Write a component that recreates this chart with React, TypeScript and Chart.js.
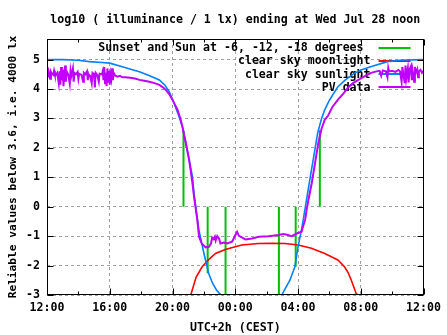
import React, { useEffect, useRef } from "react";
import { Chart, registerables } from "chart.js";

Chart.register(...registerables);

const FONT = "'DejaVu Sans Mono', 'Liberation Mono', monospace";

const titleText = "log10 ( illuminance / 1 lx) ending at Wed Jul 28 noon";
const yTitle = "Reliable values below 3.6, i.e. 4000 lx";
const xTitle = "UTC+2h (CEST)";

// x values are hours after 12:00 (Jul 27)
const xTickHours = [0, 4, 8, 12, 16, 20, 24];
const xTickLabels = ["12:00", "16:00", "20:00", "00:00", "04:00", "08:00", "12:00"];
const xMinorHours = [2, 6, 10, 14, 18, 22];
const yTicks = [-3, -2, -1, 0, 1, 2, 3, 4, 5];

const legendLabels = [
  "Sunset and Sun at -6, -12, -18 degrees ",
  "clear sky moonlight",
  "clear sky sunlight",
  "PV data",
];
const legendColors = ["#00c000", "#ff0000", "#0080ff", "#c000ff"];

// Sunset / sun at -6 / -12 degrees (evening and morning)
const sunEventHours = [8.7, 10.24, 11.38, 14.78, 15.85, 17.39];
const sunEventLevels = [2.6, -2.26, -3, -3, -2.04, 2.6];

// clear sky moonlight
const moonHours = [9.16, 9.26, 9.5, 9.89, 10.3, 10.74, 11.37, 12.0, 12.42, 13.48, 14.32, 15.17, 16.01, 16.85, 17.7, 18.54, 18.96, 19.2, 19.39, 19.7, 19.75];
const moonLog = [-3.0, -2.83, -2.4, -2.04, -1.8, -1.59, -1.45, -1.36, -1.3, -1.25, -1.24, -1.25, -1.3, -1.41, -1.59, -1.81, -2.04, -2.25, -2.49, -2.94, -3.0];

// clear sky sunlight
const sunHours = [0, 1.0, 2.0, 2.7, 3.5, 4.0, 4.8, 5.5, 5.89, 6.5, 7.16, 7.5, 7.79, 8.1, 8.42, 8.63, 8.85, 9.06, 9.27, 9.37, 9.48, 9.58, 9.68, 10.0, 10.3, 10.55, 10.8, 11.08, 11.3, 13.0, 14.8, 14.96, 15.49, 15.8, 16.0, 16.22, 16.33, 16.54, 16.75, 17.0, 17.25, 17.5, 17.7, 18.0, 18.54, 19.0, 19.6, 20.1, 20.63, 21.7, 22.5, 23.8, 24.0];
const sunLog = [5.0, 5.0, 4.98, 4.93, 4.9, 4.88, 4.76, 4.65, 4.59, 4.46, 4.31, 4.14, 3.91, 3.52, 3.06, 2.72, 2.16, 1.59, 1.02, 0.45, 0.0, -0.4, -0.79, -1.58, -2.26, -2.6, -2.83, -3.0, -3.3, null, -3.3, -3.0, -2.49, -2.04, -1.36, -0.79, -0.45, 0.23, 0.91, 1.7, 2.5, 3.0, 3.29, 3.62, 4.08, 4.3, 4.54, 4.66, 4.76, 4.93, 4.98, 5.0, 5.0];

// PV data
const pvHours = [
  0.0, 0.05, 0.1, 0.15, 0.2, 0.25, 0.3, 0.4, 0.45, 0.5, 0.55, 0.65, 0.75, 0.8, 0.85, 0.9, 0.95, 1.0, 1.05, 1.1,
  1.15, 1.2, 1.25, 1.35, 1.45, 1.5, 1.55, 1.65, 1.7, 1.75, 1.85, 1.95, 2.0, 2.05, 2.2, 2.3, 2.35, 2.45, 2.55, 2.6,
  2.65, 2.75, 2.85, 2.9, 3.0, 3.05, 3.1, 3.2, 3.3, 3.35, 3.5, 3.55, 3.6, 3.65, 3.7, 3.75, 3.8, 3.85, 3.9, 3.95,
  4.0, 4.05, 4.1, 4.15, 4.2, 4.25, 4.35, 4.5, 4.65, 4.8,
  5.0, 5.3, 5.6, 5.9, 6.2, 6.52, 6.85, 7.16, 7.4, 7.58, 7.8, 8.0, 8.32, 8.5, 8.63, 8.85, 9.06, 9.27, 9.37, 9.52,
  9.58, 9.69, 9.86, 10.11, 10.32, 10.45, 10.53, 10.62, 10.7, 10.75, 10.85, 10.96, 11.06, 11.27, 11.48, 11.8, 12.01, 12.12, 12.22, 12.33,
  12.65, 13.07, 13.49, 14.12, 14.76, 15.07, 15.3, 15.6, 15.92, 16.23, 16.28, 16.45, 16.55, 16.66, 16.87, 17.08, 17.29, 17.5, 17.7, 17.92,
  18.2, 18.56, 18.9, 19.19, 19.5, 19.82, 20.2, 20.65,
  21.0, 21.2, 21.3, 21.4, 21.6, 21.7, 21.75, 21.8, 22.0, 22.2, 22.4, 22.5, 22.6, 22.65, 22.7, 22.8, 22.85, 22.9, 23.0, 23.05,
  23.1, 23.2, 23.25, 23.3, 23.4, 23.45, 23.5, 23.6, 23.65, 23.7, 23.8, 23.9, 24.0,
];
const pvLog = [
  4.55, 4.4, 4.6, 4.5, 4.35, 4.58, 4.52, 4.48, 4.62, 4.5, 4.47, 4.55, 4.2, 4.6, 4.15, 4.75, 4.3, 4.65, 4.1, 4.55,
  4.8, 4.25, 4.6, 4.5, 4.18, 4.62, 4.45, 4.7, 4.25, 4.55, 4.5, 4.58, 4.35, 4.52, 4.48, 4.25, 4.55, 4.5, 4.6, 4.3,
  4.5, 4.45, 4.2, 4.55, 4.5, 4.05, 4.55, 4.48, 4.25, 4.52, 4.5, 4.6, 4.3, 4.75, 4.2, 4.55, 4.1, 4.7, 4.25, 4.62,
  4.15, 4.5, 4.35, 4.7, 4.3, 4.55, 4.45, 4.42, 4.45, 4.4,
  4.4, 4.38, 4.36, 4.31, 4.28, 4.25, 4.2, 4.14, 4.05, 3.97, 3.82, 3.63, 3.29, 3.0, 2.72, 2.16, 1.59, 0.8, 0.34, -0.22,
  -0.45, -1.02, -1.25, -1.38, -1.36, -1.25, -1.05, -1.1, -1.02, -1.15, -1.0, -1.08, -1.25, -1.22, -1.25, -1.19, -0.96, -0.85, -0.98, -1.02,
  -1.11, -1.08, -1.02, -1.0, -0.96, -0.93, -0.95, -1.0, -0.91, -0.85, -0.74, -0.45, -0.11, 0.23, 0.79, 1.47, 2.16, 2.65, 2.95, 3.1,
  3.4, 3.65, 3.85, 4.05, 4.2, 4.3, 4.42, 4.55,
  4.6, 4.62, 4.45, 4.63, 4.6, 4.4, 4.72, 4.6, 4.62, 4.58, 4.65, 4.6, 4.25, 4.75, 4.55, 4.2, 4.8, 4.35, 4.7, 4.22,
  4.65, 4.78, 4.3, 4.62, 4.25, 4.75, 4.55, 4.68, 4.4, 4.6, 4.65, 4.55, 4.62,
];

const toXY = (xs: number[], ys: (number | null)[]) => xs.map((x, i) => ({ x, y: ys[i] }));

const sunEventData = sunEventHours.flatMap((h, i) => [
  { x: h, y: 0 },
  { x: h, y: sunEventLevels[i] },
  { x: h, y: null },
]);

const framePlugin = {
  id: "gnuframe",
  beforeDatasetsDraw(chart: any) {
    const { ctx, chartArea } = chart;
    ctx.save();
    ctx.font = `bold 11.6px ${FONT}`;
    ctx.fillStyle = "#000";
    ctx.textBaseline = "middle";
    // title, centred over the plot area
    ctx.textAlign = "center";
    ctx.fillText(titleText, (chartArea.left + chartArea.right) / 2, 19.5);
    // key
    ctx.textAlign = "right";
    const textRight = chartArea.right - 53;
    legendLabels.forEach((t: string, i: number) => {
      const yy = chartArea.top + 8.8 + i * 13.1;
      ctx.fillText(t, textRight, yy + 0.5);
      ctx.strokeStyle = legendColors[i];
      ctx.lineWidth = 2;
      ctx.beginPath();
      ctx.moveTo(textRight + 8, Math.round(yy));
      ctx.lineTo(textRight + 40, Math.round(yy));
      ctx.stroke();
    });
    ctx.restore();
  },
  afterDatasetsDraw(chart: any) {
    const { ctx, chartArea, scales } = chart;
    const L = Math.round(chartArea.left) + 0.5;
    const R = Math.round(chartArea.right) - 0.5;
    const T = Math.round(chartArea.top) + 0.5;
    const B = Math.round(chartArea.bottom) - 0.5;
    ctx.save();
    ctx.strokeStyle = "#000";
    ctx.lineWidth = 1;
    ctx.strokeRect(L, T, R - L, B - T);
    ctx.beginPath();
    const tick = (h: number, len: number) => {
      const px = Math.round(scales.x.getPixelForValue(h)) + 0.5;
      ctx.moveTo(px, B);
      ctx.lineTo(px, B - len);
      ctx.moveTo(px, T);
      ctx.lineTo(px, T + len);
    };
    xTickHours.forEach((h) => tick(h, 6));
    xMinorHours.forEach((h) => tick(h, 3));
    yTicks.forEach((v) => {
      const py = Math.round(scales.y.getPixelForValue(v)) + 0.5;
      ctx.moveTo(L, py);
      ctx.lineTo(L + 6, py);
      ctx.moveTo(R, py);
      ctx.lineTo(R - 6, py);
    });
    ctx.stroke();
    ctx.restore();
  },
};

export default function App() {
  const ref = useRef<HTMLCanvasElement>(null);
  useEffect(() => {
    const font = { family: FONT, size: 11.6, weight: "bold" as const };
    const chart = new Chart(ref.current as HTMLCanvasElement, {
      type: "line",
      data: {
        datasets: [
          {
            label: legendLabels[3],
            data: toXY(pvHours, pvLog),
            borderColor: legendColors[3],
            borderWidth: 2,
            pointRadius: 0,
            tension: 0,
          },
          {
            label: legendLabels[2],
            data: toXY(sunHours, sunLog),
            borderColor: legendColors[2],
            borderWidth: 1.6,
            pointRadius: 0,
            tension: 0,
          },
          {
            label: legendLabels[1],
            data: toXY(moonHours, moonLog),
            borderColor: legendColors[1],
            borderWidth: 1.6,
            pointRadius: 0,
            tension: 0,
          },
          {
            label: legendLabels[0],
            data: sunEventData as any,
            borderColor: legendColors[0],
            borderWidth: 2,
            pointRadius: 0,
            tension: 0,
            spanGaps: false,
          },
        ],
      },
      options: {
        responsive: false,
        maintainAspectRatio: false,
        animation: false,
        devicePixelRatio: 1,
        events: [],
        layout: { padding: { left: 0, right: 21, top: 39, bottom: 0 } },
        plugins: {
          legend: { display: false },
          tooltip: { enabled: false },
          title: { display: false },
        },
        scales: {
          x: {
            type: "linear",
            min: 0,
            max: 24,
            afterBuildTicks: (axis: any) => {
              axis.ticks = xTickHours.map((v) => ({ value: v }));
            },
            afterFit: (axis: any) => {
              axis.height = 40;
            },
            ticks: {
              autoSkip: false,
              maxRotation: 0,
              padding: 6,
              color: "#000",
              font,
              callback: (_v: any, i: number) => xTickLabels[i],
            },
            grid: { color: "#a0a0a0", lineWidth: 1, drawTicks: false },
            border: { display: false, dash: [3, 3] },
            title: {
              display: true,
              text: xTitle,
              color: "#000",
              font,
              padding: { top: 0, bottom: 0 },
            },
          },
          y: {
            type: "linear",
            min: -3,
            max: 5.7,
            afterBuildTicks: (axis: any) => {
              axis.ticks = yTicks.map((v) => ({ value: v }));
            },
            afterFit: (axis: any) => {
              axis.width = 47;
            },
            ticks: {
              padding: 7,
              color: "#000",
              font,
              callback: (v: any) => String(v),
            },
            grid: { color: "#a0a0a0", lineWidth: 1, drawTicks: false },
            border: { display: false, dash: [3, 3] },
            title: {
              display: true,
              text: yTitle,
              color: "#000",
              font: { family: FONT, size: 11.2, weight: "bold" as const },
              padding: { top: 6, bottom: 0 },
            },
          },
        },
      },
      plugins: [framePlugin],
    });
    return () => chart.destroy();
  }, []);
  return (
    <div style={{ position: "fixed", left: 0, top: 0, width: 447, height: 335, background: "#fff" }}>
      <canvas ref={ref} width={447} height={335} style={{ display: "block", width: 447, height: 335 }} />
    </div>
  );
}
